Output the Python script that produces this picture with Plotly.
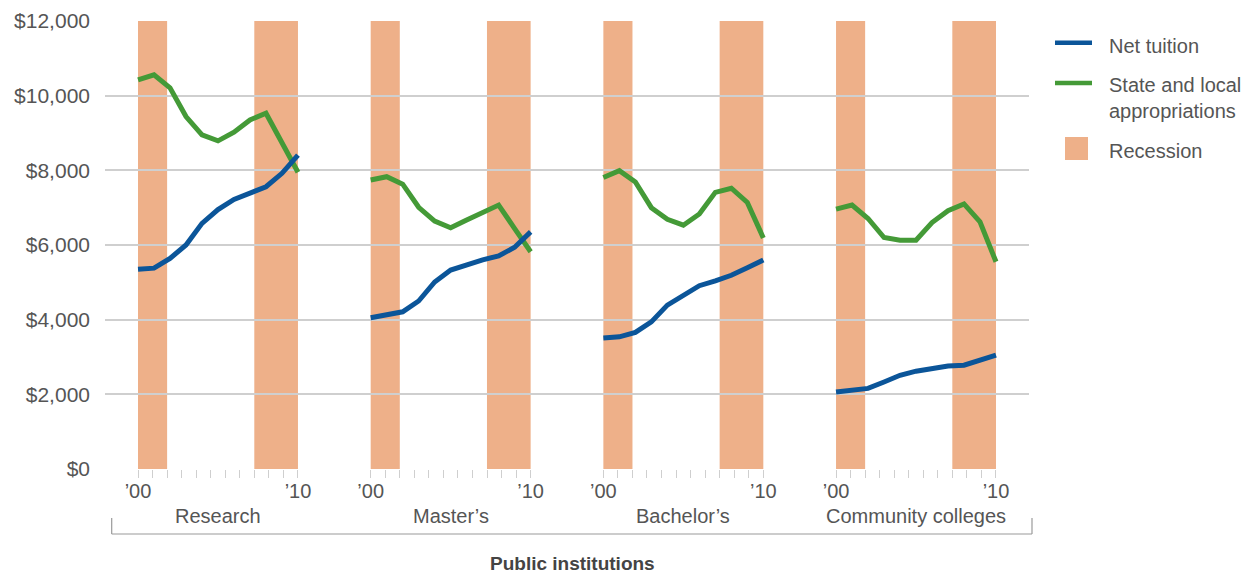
import plotly.graph_objects as go

# ---- data -------------------------------------------------------------
years = list(range(2000, 2011))
groups = ["Research", "Master’s", "Bachelor’s", "Community colleges"]

net_tuition = {
    "Research":           [5350, 5380, 5640, 6000, 6580, 6950, 7220, 7400, 7560, 7920, 8410],
    "Master’s":           [4050, 4140, 4210, 4500, 5010, 5330, 5480, 5600, 5710, 5940, 6350],
    "Bachelor’s":         [3510, 3540, 3660, 3940, 4390, 4660, 4910, 5040, 5190, 5390, 5600],
    "Community colleges": [2060, 2110, 2160, 2330, 2510, 2620, 2690, 2760, 2780, 2910, 3050],
}
state_local = {
    "Research":           [10420, 10560, 10210, 9440, 8950, 8790, 9020, 9350, 9530, 8750, 7950],
    "Master’s":           [7740, 7830, 7630, 7010, 6640, 6460, 6670, 6870, 7070, 6440, 5820],
    "Bachelor’s":         [7810, 7990, 7690, 7000, 6690, 6530, 6830, 7410, 7520, 7140, 6190],
    "Community colleges": [6960, 7070, 6710, 6200, 6130, 6130, 6600, 6920, 7100, 6620, 5550],
}
# recession periods, in years along each panel's time axis
recessions = [(2000.0, 2001.82), (2007.27, 2010.0)]

y_ticks = [0, 2000, 4000, 6000, 8000, 10000, 12000]

# ---- layout constants ---------------------------------------------------
BLUE = "#0b5599"
GREEN = "#449a37"
BAND = "#eeb089"
GRID = "#cfcfcf"
TEXT = "#555555"
FONT = "Liberation Sans, Arial, sans-serif"

TICK_STEP = 10 / 11            # 12 tick marks across each 10-year panel
PERIOD = 16 * TICK_STEP         # horizontal distance between panels
PAD = 2.27 * TICK_STEP

W, H = 1251, 575
ML, MR, MT, MB = 105, 222, 21, 106
PW, PH = W - ML - MR, H - MT - MB


def px_x(px):
    return (px - ML) / PW


def px_y(py):
    return (H - MB - py) / PH


def pos(g, year):
    return g * PERIOD + (year - 2000)


fig = go.Figure()

for g, name in enumerate(groups):
    xs = [pos(g, y) for y in years]
    fig.add_trace(go.Scatter(x=xs, y=state_local[name], mode="lines",
                             line=dict(color=GREEN, width=5),
                             name="State and local appropriations",
                             showlegend=False))
    fig.add_trace(go.Scatter(x=xs, y=net_tuition[name], mode="lines",
                             line=dict(color=BLUE, width=5),
                             name="Net tuition", showlegend=False))
    for y0, y1 in recessions:
        fig.add_shape(type="rect", xref="x", yref="y",
                      x0=pos(g, y0), x1=pos(g, y1), y0=0, y1=12000,
                      fillcolor=BAND, line_width=0, layer="below")
    fig.add_annotation(x=pos(g, 2005), y=px_y(516), xref="x", yref="paper",
                       text=name, showarrow=False, yanchor="middle",
                       font=dict(family=FONT, size=20, color=TEXT))

# x ticks: 12 marks per panel, labelled at the ends
tickvals, ticktext = [], []
for g in range(len(groups)):
    for k in range(12):
        tickvals.append(g * PERIOD + k * TICK_STEP)
        ticktext.append("’00" if k == 0 else ("’10" if k == 11 else ""))

fig.update_xaxes(range=[-PAD, 3 * PERIOD + 10 + PAD], showgrid=False,
                 zeroline=False, showline=False, automargin=False,
                 tickvals=tickvals, ticktext=ticktext,
                 ticks="outside", ticklen=8, tickwidth=1.2, tickcolor=GRID,
                 ticklabelstandoff=-4,
                 tickfont=dict(family=FONT, size=20, color=TEXT),
                 fixedrange=True)
fig.update_yaxes(range=[0, 12000], tickvals=y_ticks,
                 ticktext=[f"${v:,}" for v in y_ticks],
                 showgrid=True, gridcolor=GRID, gridwidth=1.5,
                 zeroline=False, showline=False, ticks="", automargin=False,
                 ticklabelstandoff=14,
                 tickfont=dict(family=FONT, size=21, color=TEXT),
                 fixedrange=True)

# bracket grouping the four panels
bx0, bx1, by_top, by_bot = px_x(111.7), px_x(1032), px_y(518), px_y(534)
for x0, y0, x1, y1 in [(bx0, by_bot, bx1, by_bot),
                       (bx0, by_top, bx0, by_bot),
                       (bx1, by_top, bx1, by_bot)]:
    fig.add_shape(type="line", xref="paper", yref="paper",
                  x0=x0, y0=y0, x1=x1, y1=y1,
                  line=dict(color="#9a9a9a", width=1.2))

fig.add_annotation(x=px_x(572), y=px_y(563), xref="paper", yref="paper",
                   text="<b>Public institutions</b>", showarrow=False,
                   yanchor="middle",
                   font=dict(family=FONT, size=19, color="#444444"))

# legend
for color, ypx in [(BLUE, 42.7), (GREEN, 83)]:
    fig.add_shape(type="line", xref="paper", yref="paper",
                  x0=px_x(1055), x1=px_x(1092), y0=px_y(ypx), y1=px_y(ypx),
                  line=dict(color=color, width=4.5))
fig.add_shape(type="rect", xref="paper", yref="paper",
              x0=px_x(1065), x1=px_x(1088), y0=px_y(160), y1=px_y(137),
              fillcolor=BAND, line_width=0)
for text, ypx in [("Net tuition", 46),
                  ("State and local<br>appropriations", 98),
                  ("Recession", 150.5)]:
    fig.add_annotation(x=px_x(1107), y=px_y(ypx), xref="paper", yref="paper",
                       text=text, showarrow=False, xanchor="left",
                       yanchor="middle", align="left",
                       font=dict(family=FONT, size=20, color=TEXT))

fig.update_layout(width=W, height=H,
                  margin=dict(l=ML, r=MR, t=MT, b=MB, pad=0),
                  paper_bgcolor="white", plot_bgcolor="white",
                  showlegend=False)

fig.write_html("out.html")
